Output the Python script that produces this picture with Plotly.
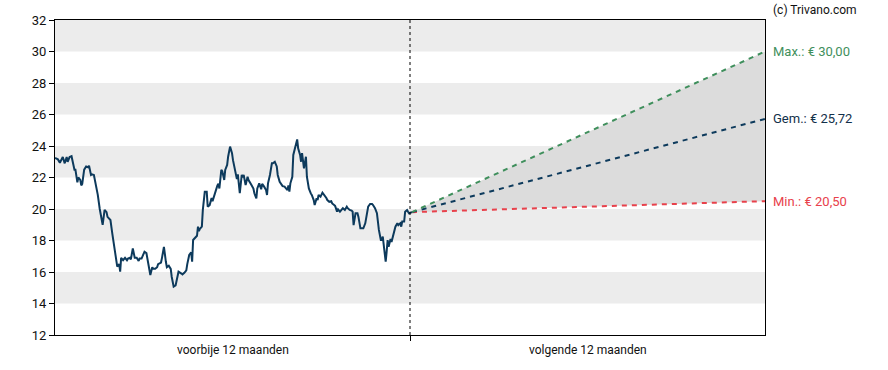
import plotly.graph_objects as go

# --- data ---
hist_days = [-365, -362, -360, -357, -355, -353, -352, -350, -348, -345, -344, -342, -341, -339, -338, -337,
             -335, -333, -331, -330, -328, -327, -325, -323, -321, -319, -317, -316, -314, -312, -311, -308,
             -306, -304, -302, -301, -299, -298, -297, -295, -293, -291, -290, -288, -287, -285, -283, -281,
             -279, -278, -276, -273, -271, -269, -267, -265, -264, -262, -260, -259, -256, -255, -253, -251,
             -250, -248, -246, -245, -243, -241, -240, -238, -235, -234, -232, -230, -229, -227, -225, -224,
             -223, -221, -219, -218, -217, -216, -214, -213, -211, -209, -208, -206, -204, -203, -200, -198,
             -197, -196, -194, -193, -191, -190, -188, -187, -185, -183, -182, -180, -178, -177, -175, -173,
             -172, -171, -169, -167, -166, -163, -161, -160, -158, -157, -155, -153, -152, -150, -148, -147,
             -146, -144, -142, -141, -139, -137, -136, -134, -132, -131, -129, -126, -125, -124, -123, -121,
             -120, -118, -116, -115, -113, -112, -111, -109, -107, -106, -104, -102, -101, -99, -98, -96,
             -95, -94, -92, -90, -88, -86, -85, -83, -81, -80, -78, -77, -75, -74, -72, -70,
             -69, -67, -65, -64, -62, -60, -59, -58, -56, -54, -53, -51, -49, -48, -46, -44,
             -43, -41, -39, -38, -36, -34, -33, -32, -30, -29, -28, -27, -26, -25, -24, -23,
             -22, -20, -19, -17, -15, -13, -12, -10, -9, -8, -6, -5, -3, -2, -1, 1, 2]
hist_price = [23.24, 23.15, 22.94, 23.3, 22.9, 23.3, 23.0, 23.3, 23.35, 22.5, 22.5, 21.7, 22.0, 21.85, 21.5, 21.6,
              22.5, 22.7, 22.65, 22.75, 22.16, 22.2, 22.16, 21.6, 20.9, 20.0, 19.2, 19.0, 19.94, 19.8, 19.5, 19.3,
              18.4, 17.6, 16.7, 16.34, 16.5, 16.02, 16.9, 16.75, 16.9, 16.75, 16.85, 16.9, 16.8, 17.5, 16.9, 16.9,
              16.7, 16.85, 16.85, 17.29, 17.2, 16.34, 15.81, 16.3, 16.2, 16.2, 16.3, 16.5, 16.6, 16.9, 17.6, 16.65,
              16.3, 16.4, 16.2, 15.7, 15.07, 15.15, 15.5, 16.02, 15.9, 15.85, 15.95, 16.1, 16.5, 17.08, 17.25, 16.65,
              18.03, 18.2, 18.3, 18.88, 18.6, 18.75, 18.88, 19.94, 21.1, 21.1, 20.15, 20.25, 20.7, 20.5, 21.2, 21.5,
              21.6, 21.3, 22.48, 22.4, 21.84, 22.48, 22.8, 23.32, 23.96, 23.55, 23.1, 22.5, 21.9, 22.2, 21.0, 22.16,
              22.0, 22.16, 21.52, 22.05, 21.84, 21.52, 21.3, 21.0, 20.68, 21.3, 21.63, 21.25, 21.6, 21.42, 21.2, 20.89,
              21.63, 22.16, 22.9, 22.9, 23.0, 22.7, 22.16, 21.73, 21.5, 21.45, 21.42, 21.2, 21.5, 21.1, 21.63, 22.05,
              23.43, 23.85, 24.42, 23.85, 23.43, 23.0, 23.55, 22.58, 23.32, 22.05, 21.31, 20.99, 20.89, 20.57, 20.25, 20.68,
              20.57, 20.89, 20.78, 21.04, 20.89, 20.7, 20.57, 20.46, 20.5, 20.35, 20.25, 20.2, 19.83, 19.98, 19.83, 19.98,
              20.05, 19.94, 20.15, 20.05, 19.94, 19.9, 19.83, 18.98, 19.73, 19.73, 19.5, 18.77, 18.77, 18.77, 19.09, 19.73,
              20.15, 20.32, 20.32, 20.25, 20.05, 19.73, 19.09, 18.67, 18.03, 18.03, 18.25, 17.8, 17.29, 16.65, 17.29, 18.03,
              17.6, 18.1, 17.9, 18.35, 18.88, 19.09, 18.98, 19.09, 18.88, 19.2, 19.2, 19.83, 19.94, 19.83, 19.73, 19.78, 19.8]

horizon_days = 365
target_max = 30.00
target_avg = 25.72
target_min = 20.50

period_labels = ["voorbije 12 maanden", "volgende 12 maanden"]
y_ticks = [12, 14, 16, 18, 20, 22, 24, 26, 28, 30, 32]

FONT = "Roboto, Arial, sans-serif"
NAVY = "#0d3a5c"
GREEN = "#3f8f5c"
RED = "#e8414b"
BAND = "#ececec"
FILL = "#dcdcdc"

start_x = hist_days[-1]
start_y = hist_price[-1]

fig = go.Figure()

# forecast range fill
fig.add_trace(go.Scatter(
    x=[start_x, horizon_days, horizon_days, start_x],
    y=[start_y, target_max, target_min, start_y],
    fill="toself", fillcolor=FILL, mode="none", hoverinfo="skip", showlegend=False))

# history
fig.add_trace(go.Scatter(x=hist_days, y=hist_price, mode="lines",
                         line=dict(color=NAVY, width=2), showlegend=False))

for val, col in [(target_min, RED), (target_avg, NAVY), (target_max, GREEN)]:
    fig.add_trace(go.Scatter(x=[start_x, horizon_days], y=[start_y, val], mode="lines",
                             line=dict(color=col, width=2, dash="5px,5px"), showlegend=False))

shapes = []
for lo in [14, 18, 22, 26, 30]:
    shapes.append(dict(type="rect", xref="paper", yref="y", x0=0, x1=1, y0=lo, y1=lo + 2,
                       fillcolor=BAND, line=dict(width=0), layer="below"))
shapes.append(dict(type="line", xref="x", yref="paper", x0=0, x1=0, y0=0, y1=1,
                   line=dict(color="black", width=1, dash="dot"), layer="above"))

annotations = [
    dict(x=-horizon_days / 2, y=-0.02, xref="x", yref="paper", text=period_labels[0], showarrow=False,
         yanchor="top", font=dict(family=FONT, size=12, color="#111")),
    dict(x=horizon_days / 2, y=-0.02, xref="x", yref="paper", text=period_labels[1], showarrow=False,
         yanchor="top", font=dict(family=FONT, size=12, color="#111")),
    dict(x=1.008, y=target_max, xref="paper", yref="y", text="Max.: € 30,00", showarrow=False,
         xanchor="left", font=dict(family=FONT, size=13, color=GREEN)),
    dict(x=1.008, y=target_avg, xref="paper", yref="y", text="Gem.: € 25,72", showarrow=False,
         xanchor="left", font=dict(family=FONT, size=13, color="#12304a")),
    dict(x=1.008, y=target_min, xref="paper", yref="y", text="Min.: € 20,50", showarrow=False,
         xanchor="left", font=dict(family=FONT, size=13, color=RED)),
    dict(x=1.008, y=1.0, xref="paper", yref="paper", text="(c) Trivano.com", showarrow=False,
         xanchor="left", yanchor="bottom", yshift=1, font=dict(family=FONT, size=12, color="#111")),
]

fig.update_layout(
    width=888, height=370,
    margin=dict(l=55, r=123, t=20, b=35),
    paper_bgcolor="white", plot_bgcolor="white",
    shapes=shapes, annotations=annotations,
    font=dict(family=FONT, size=12, color="#111"),
    xaxis=dict(range=[-horizon_days, horizon_days], tickvals=[0], ticktext=[""], automargin=False,
               ticks="outside", ticklen=5, tickcolor="black", showgrid=False, zeroline=False,
               showline=True, linecolor="black", linewidth=1, mirror=True, fixedrange=True),
    yaxis=dict(range=[12, 32], tickvals=y_ticks, ticks="outside", ticklen=5, tickcolor="black",
               automargin=False,
               showgrid=False, zeroline=False, showline=True, linecolor="black", linewidth=1,
               mirror=True, tickfont=dict(family=FONT, size=13, color="#111")),
)

# remove the default page margin so the figure fills the 888x370 window exactly
fig.write_html("out.html", config={"displayModeBar": False},
               post_script="document.body.style.margin='0';")
